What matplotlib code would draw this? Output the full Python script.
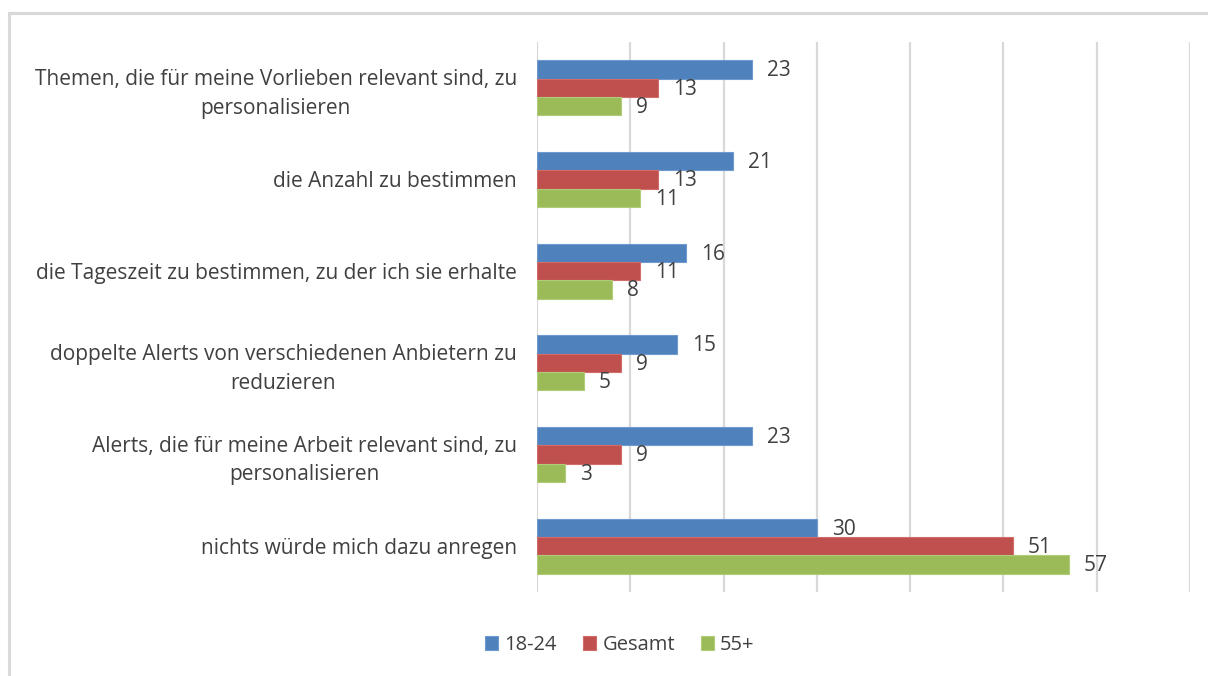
import numpy as np
from matplotlib import pyplot as plt
from matplotlib.lines import Line2D

plt.rcParams['font.family'] = ['Open Sans', 'DejaVu Sans']

# Daten
categories = [
    'Themen, die für meine Vorlieben relevant sind, zu\npersonalisieren',
    'die Anzahl zu bestimmen',
    'die Tageszeit zu bestimmen, zu der ich sie erhalte',
    'doppelte Alerts von verschiedenen Anbietern zu\nreduzieren',
    'Alerts, die für meine Arbeit relevant sind, zu\npersonalisieren',
    'nichts würde mich dazu anregen',
]
series_names = ['18-24', 'Gesamt', '55+']
values_18_24 = [23, 21, 16, 15, 23, 30]
values_gesamt = [13, 13, 11, 9, 9, 51]
values_55 = [9, 11, 8, 5, 3, 57]

colors = ['#4F81BD', '#C0504D', '#9BBB59']
edge_colors = ['#6E9AD0', '#D06C69', '#B0CC78']
text_color = '#404040'

fig = plt.figure(figsize=(12.08, 6.76), dpi=100)
ax = fig.add_axes([0.4445, 0.1243, 0.5406, 0.8136])

y = np.arange(len(categories))
bar_h = 0.2
all_values = [values_18_24, values_gesamt, values_55]
for i, (name, vals) in enumerate(zip(series_names, all_values)):
    pos = y + (i - 1) * bar_h
    bars = ax.barh(pos, vals, height=bar_h, color=colors[i], edgecolor=edge_colors[i],
                   linewidth=0.8, label=name, zorder=3)
    for b, v in zip(bars, vals):
        ax.annotate(str(v), xy=(v, b.get_y() + b.get_height() / 2),
                    xytext=(11, -1), textcoords='offset points',
                    ha='left', va='center', fontsize=15, color=text_color)

ax.set_xlim(0, 70)
ax.set_ylim(len(categories) - 0.5, -0.5)
ax.set_xticks(np.arange(0, 71, 10))
ax.set_xticklabels([])
ax.tick_params(axis='x', length=0)
ax.grid(axis='x', color='#D9D9D9', linewidth=1.6, zorder=0)
ax.set_yticks(y)
ax.set_yticklabels(categories, fontsize=15, color=text_color, multialignment='center',
                   linespacing=1.45)
ax.tick_params(axis='y', length=0, pad=14.5)
for s in ax.spines.values():
    s.set_visible(False)

# Rahmen oben und links
fig.add_artist(Line2D([9 / 1208, 1], [1 - 13 / 676, 1 - 13 / 676], color='#D9D9D9', linewidth=2.2))
fig.add_artist(Line2D([9 / 1208, 9 / 1208], [0, 1 - 13 / 676], color='#D9D9D9', linewidth=2.2))

leg = fig.legend(loc='center', bbox_to_anchor=(620 / 1208, 1 - 645 / 676), ncol=3,
                 frameon=False, fontsize=14.5, handlelength=0.65, handleheight=0.65,
                 handletextpad=0.3, columnspacing=1.3, labelcolor=text_color)

fig.savefig('out.png', dpi=100)
